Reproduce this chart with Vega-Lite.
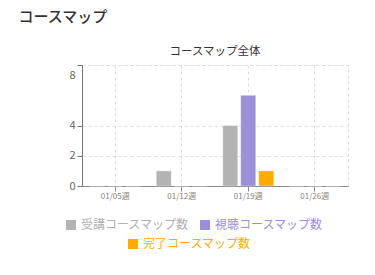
{
  "$schema": "https://vega.github.io/schema/vega-lite/v6.json",
  "background": "white",
  "padding": {"left": 18, "top": 9, "right": 26, "bottom": 5},
  "config": {
    "font": "Noto Sans CJK JP",
    "view": {"stroke": "#dddddd", "strokeDash": [3, 3]}
  },
  "title": {
    "text": "コースマップ",
    "anchor": "start",
    "fontSize": 15,
    "fontWeight": 500,
    "color": "#333333",
    "offset": 21,
    "dx": -46
  },
  "datasets": {
    "d": [
      {"week": "01/05週", "series": "受講コースマップ数", "count": 0},
      {"week": "01/05週", "series": "視聴コースマップ数", "count": 0},
      {"week": "01/05週", "series": "完了コースマップ数", "count": 0},
      {"week": "01/12週", "series": "受講コースマップ数", "count": 1},
      {"week": "01/12週", "series": "視聴コースマップ数", "count": 0},
      {"week": "01/12週", "series": "完了コースマップ数", "count": 0},
      {"week": "01/19週", "series": "受講コースマップ数", "count": 4},
      {"week": "01/19週", "series": "視聴コースマップ数", "count": 6},
      {"week": "01/19週", "series": "完了コースマップ数", "count": 1},
      {"week": "01/26週", "series": "受講コースマップ数", "count": 0},
      {"week": "01/26週", "series": "視聴コースマップ数", "count": 0},
      {"week": "01/26週", "series": "完了コースマップ数", "count": 0}
    ]
  },
  "vconcat": [
    {
      "width": 266,
      "height": 121,
      "title": {
        "text": "コースマップ全体",
        "fontSize": 11.5,
        "fontWeight": "normal",
        "color": "#333333",
        "offset": 7
      },
      "data": {"name": "d"},
      "encoding": {
        "x": {
          "field": "week",
          "type": "nominal",
          "scale": {"domain": ["01/05週", "01/12週", "01/19週", "01/26週"], "paddingInner": 0, "paddingOuter": 0},
          "axis": {
            "title": null,
            "labelAngle": 0,
            "labelFontSize": 8,
            "labelColor": "#8a7f74",
            "domainColor": "#888888",
            "tickColor": "#888888",
            "tickSize": 5,
            "labelPadding": 1,
            "grid": true,
            "gridDash": [3, 3],
            "gridColor": "#dddddd"
          }
        },
        "xOffset": {
          "field": "series",
          "type": "nominal",
          "scale": {
            "domain": ["受講コースマップ数", "視聴コースマップ数", "完了コースマップ数"],
            "paddingInner": 0.167,
            "paddingOuter": 0.43
          }
        },
        "y": {
          "field": "count",
          "type": "quantitative",
          "scale": {"domain": [0, 8], "nice": false},
          "axis": {
            "title": null,
            "values": [0, 2, 4, 8],
            "labelFontSize": 11,
            "labelColor": "#666666",
            "domainColor": "#777777",
            "tickColor": "#777777",
            "tickSize": 5,
            "labelPadding": 2,
            "labelFlush": false,
            "labelOffset": {"condition": {"test": "datum.value == 8", "value": 10}, "value": 0},
            "grid": true,
            "gridDash": [3, 3],
            "gridColor": "#dddddd"
          }
        }
      },
      "layer": [
        {
          "transform": [{"filter": "datum.series != '完了コースマップ数'"}],
          "mark": {"type": "bar", "stroke": "#ffffff", "strokeOpacity": 0.35, "strokeWidth": 1},
          "encoding": {
            "fill": {
              "field": "series",
              "type": "nominal",
              "scale": {"domain": ["受講コースマップ数", "視聴コースマップ数"], "range": ["#b3b3b3", "#9b8fd9"]},
              "legend": {
                "title": null,
                "orient": "none",
                "direction": "horizontal",
                "legendX": -17,
                "legendY": 154,
                "symbolType": "square",
                "symbolSize": 100,
                "symbolStrokeWidth": 0,
                "labelFontSize": 12,
                "labelOffset": 4,
                "columnPadding": 9,
                "labelColor": {"expr": "datum.label == '受講コースマップ数' ? '#b0b0b0' : '#9b8fd9'"}
              }
            }
          }
        },
        {
          "transform": [{"filter": "datum.series == '完了コースマップ数'"}],
          "mark": {"type": "bar", "stroke": "#ffffff", "strokeOpacity": 0.35, "strokeWidth": 1},
          "encoding": {
            "color": {
              "field": "series",
              "type": "nominal",
              "scale": {"domain": ["完了コースマップ数"], "range": ["#ffab00"]},
              "legend": {
                "title": null,
                "orient": "none",
                "direction": "horizontal",
                "legendX": 45,
                "legendY": 173,
                "symbolType": "square",
                "symbolSize": 100,
                "symbolStrokeWidth": 0,
                "labelFontSize": 12,
                "labelOffset": 4,
                "labelColor": "#ffab00"
              }
            }
          }
        }
      ],
      "resolve": {"scale": {"fill": "independent", "color": "independent"}}
    }
  ]
}
